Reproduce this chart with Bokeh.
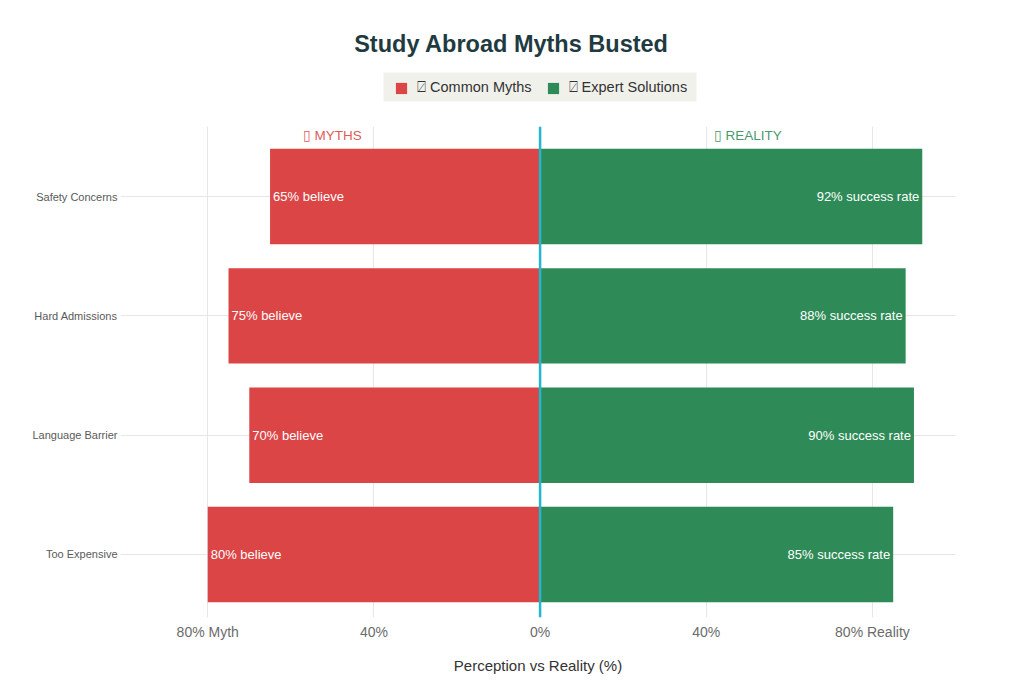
import numpy as np
from bokeh.plotting import figure
from bokeh.layouts import column
from bokeh.models import (ColumnDataSource, Range1d, Span, Legend, LegendItem,
                          FixedTicker, BoxAnnotation)
from bokeh.core.properties import value
from bokeh.embed import file_html
from bokeh.resources import INLINE

# ---- data ----
categories = ["Too Expensive", "Language Barrier", "Hard Admissions", "Safety Concerns"]
myth_pct = [80, 70, 75, 65]
reality_pct = [85, 90, 88, 92]
myth_labels = [f"{v}% believe" for v in myth_pct]
reality_labels = [f"{v}% success rate" for v in reality_pct]
x_ticks = [-80, -40, 0, 40, 80]
x_tick_labels = ["80% Myth", "40%", "0%", "40%", "80% Reality"]
series_names = ["\u2341 Common Myths", "\u2341 Expert Solutions"]
title_text = "Study Abroad Myths Busted"

RED = "#DB4545"
GREEN = "#2E8B57"
CYAN = "#1FB8CD"
FONT = "Liberation Sans"

W, H, HH = 1024, 682, 126
BL, BR = 120, 69  # frame borders shared by both stacked figures

# ---- header (title + legend); frames are aligned by the column layout ----
hdr_fig = figure(width=W, height=HH, output_backend="svg", toolbar_location=None,
                 x_range=Range1d(BL, W - BR), y_range=Range1d(0, HH),
                 min_border_left=BL, min_border_right=BR, min_border_top=0,
                 min_border_bottom=0, outline_line_color=None)
hdr_fig.axis.visible = False
hdr_fig.grid.visible = False
hdr_fig.text(x=[511], y=[HH - 43], text=[title_text], text_align="center",
             text_baseline="middle", text_font=value(FONT),
             text_font_size="23.5px", text_font_style="bold", text_color="#1F3B3F")
hdr_fig.add_layout(BoxAnnotation(left=383, right=696, bottom=HH - 101, top=HH - 72,
                                 fill_color="#F1F1EC", fill_alpha=1.0, line_color=None))
d_myth = hdr_fig.rect(x=[np.nan], y=[np.nan], width=1, height=1,
                      fill_color=RED, line_color=None)
d_real = hdr_fig.rect(x=[np.nan], y=[np.nan], width=1, height=1,
                      fill_color=GREEN, line_color=None)
legend = Legend(items=[LegendItem(label=series_names[0], renderers=[d_myth]),
                       LegendItem(label=series_names[1], renderers=[d_real])],
                orientation="horizontal", location=(394 - BL, 30),
                background_fill_alpha=0.0, border_line_color=None,
                label_text_font=FONT, label_text_font_size="14.5px",
                label_text_color="#333333", glyph_width=14, glyph_height=14,
                spacing=14, padding=0, margin=0, label_standoff=9)
hdr_fig.add_layout(legend)

# ---- main chart ----
ypos = list(range(len(categories)))
src = ColumnDataSource(dict(
    y=ypos,
    myth_left=[-v for v in myth_pct],
    zero=[0] * len(categories),
    reality=reality_pct,
    myth_labels=myth_labels,
    reality_labels=reality_labels,
))

p = figure(width=W, height=H - HH, output_backend="svg", toolbar_location=None,
           x_range=Range1d(-101, 100), y_range=Range1d(-0.528, 3.587),
           min_border_left=BL, min_border_right=BR, min_border_top=0,
           min_border_bottom=65, outline_line_color=None)

p.hbar(y="y", left="myth_left", right="zero", height=0.8, source=src,
       fill_color=RED, line_color=None)
p.hbar(y="y", left="zero", right="reality", height=0.8, source=src,
       fill_color=GREEN, line_color=None)

p.text(x="myth_left", y="y", text="myth_labels", source=src, x_offset=3,
       text_align="left", text_baseline="middle", text_color="white",
       text_font=value(FONT), text_font_size="13px")
p.text(x="reality", y="y", text="reality_labels", source=src, x_offset=-3,
       text_align="right", text_baseline="middle", text_color="white",
       text_font=value(FONT), text_font_size="13px")

hdr = ColumnDataSource(dict(x=[-50, 50], y=[3.51, 3.51],
                            t=["\u25AF MYTHS", "\u25AF REALITY"], c=[RED, GREEN]))
p.text(x="x", y="y", text="t", text_color="c", source=hdr, text_align="center",
       text_baseline="middle", text_font=value(FONT), text_font_size="13.5px",
       text_alpha=0.9)

p.add_layout(Span(location=0, dimension="height", line_color=CYAN, line_width=2.5))

# axes
p.xaxis.ticker = FixedTicker(ticks=x_ticks)
p.xaxis.major_label_overrides = {t: l for t, l in zip(x_ticks, x_tick_labels)}
p.xaxis.axis_label = "Perception vs Reality (%)"
p.xaxis.axis_label_text_font = FONT
p.xaxis.axis_label_text_font_size = "15px"
p.xaxis.axis_label_text_font_style = "normal"
p.xaxis.axis_label_text_color = "#333333"
p.xaxis.major_label_text_font = FONT
p.xaxis.major_label_text_font_size = "14px"
p.xaxis.major_label_text_color = "#6B6B6B"
p.xaxis.axis_line_color = None
p.xaxis.major_tick_line_color = None
p.xaxis.minor_tick_line_color = None
p.xaxis.major_tick_out = 0
p.xaxis.major_tick_in = 0
p.xaxis.major_label_standoff = 6
p.xaxis.axis_label_standoff = 14

p.yaxis.ticker = FixedTicker(ticks=ypos)
p.yaxis.major_label_overrides = {i: c for i, c in zip(ypos, categories)}
p.yaxis.major_label_text_font = FONT
p.yaxis.major_label_text_font_size = "11px"
p.yaxis.major_label_text_color = "#5A5A5A"
p.yaxis.axis_line_color = None
p.yaxis.major_tick_line_color = None
p.yaxis.minor_tick_line_color = None
p.yaxis.major_tick_out = 0
p.yaxis.major_tick_in = 0
p.yaxis.major_label_standoff = 3

p.xgrid.ticker = FixedTicker(ticks=x_ticks)
p.ygrid.ticker = FixedTicker(ticks=ypos)
p.grid.grid_line_color = "#E6E6E6"
p.grid.grid_line_width = 1

layout = column(hdr_fig, p, spacing=0)
open("out.html", "w").write(file_html(layout, INLINE))
